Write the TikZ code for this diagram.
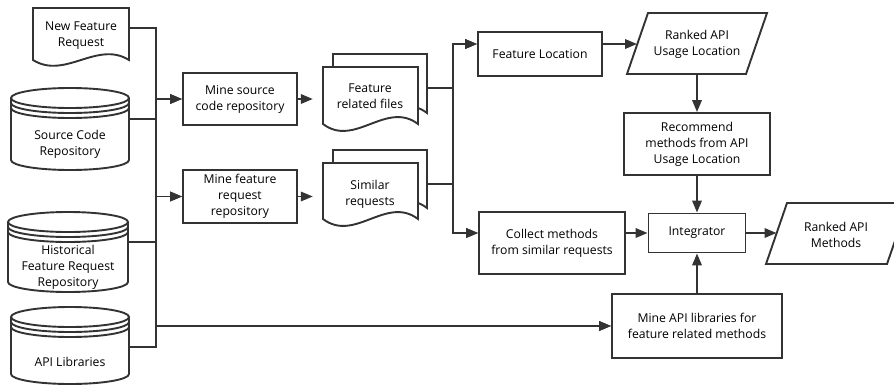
\documentclass[tikz,border=0pt]{standalone}
\usepackage{fontspec}
\setmainfont{Open Sans}
\usetikzlibrary{arrows.meta}
\definecolor{ln}{HTML}{333333}
\newcommand\docpath[5]{\draw[shp] (#1,#4) -- (#1,#3) -- (#2,#3) -- (#2,#4) .. controls ({#1+2*(#2-#1)/3},{#4-#5}) and ({#1+(#2-#1)/3},{#4+#5}) .. cycle;}
\newcommand\dstore[4]{%
  \pgfmathsetmacro\dsM{(#1+#2)/2}%
  \pgfmathsetmacro\dsA{#1+0.4477*(#2-#1)/2}%
  \pgfmathsetmacro\dsZ{#2-0.4477*(#2-#1)/2}%
  \pgfmathsetmacro\dsC{#3+10}%
  \pgfmathsetmacro\dsB{#4-10}%
  \draw[shp] (#1,\dsC) -- (#1,\dsB) .. controls (#1,{\dsB+5.52}) and (\dsA,#4) .. (\dsM,#4) .. controls (\dsZ,#4) and (#2,{\dsB+5.52}) .. (#2,\dsB) -- (#2,\dsC);
  \draw[shp] (\dsM,\dsC) ellipse [x radius={(#2-#1)/2}, y radius=10];
  \foreach \dd in {5,10} {\draw[shp,fill=none] (#1,{\dsC+\dd}) .. controls (#1,{\dsC+\dd+5.52}) and (\dsA,{\dsC+\dd+10}) .. (\dsM,{\dsC+\dd+10}) .. controls (\dsZ,{\dsC+\dd+10}) and (#2,{\dsC+\dd+5.52}) .. (#2,{\dsC+\dd});}
}
\begin{document}
\begin{tikzpicture}[x=1pt,y=-1pt,
  shp/.style={draw=ln,line width=1.9pt,fill=white},
  conn/.style={draw=ln,line width=1.9pt},
  arr/.style={conn,-{Triangle[length=12pt,width=9.5pt]}},
  lbl/.style={align=center,font=\fontsize{12.2}{16}\selectfont,inner sep=0pt,text=black},
  box/.style={lbl,draw=ln,line width=1.9pt,fill=white}]
\useasboundingbox (0,0) rectangle (894,386);
\clip (0,0) rectangle (894,386);
% shapes
\docpath{33}{129}{8}{60}{20}
\dstore{11}{129}{88}{170}
\dstore{8}{128}{212}{292}
\dstore{11}{129}{307}{384}
\docpath{333}{427}{54}{113}{24}
\docpath{323}{418}{67}{124}{24}
\docpath{333}{427}{150}{208}{24}
\docpath{323}{418}{163}{219}{24}
\draw[shp] (627,74) -- (648,13) -- (767,13) -- (746,74) -- cycle;
\draw[shp] (766,264) -- (787,203) -- (908,203) -- (887,264) -- cycle;
% text nodes of drawn shapes
\node[lbl,minimum width=96pt,minimum height=56pt] (nfr) at (81,36) {New Feature\\Request};
\node[lbl,minimum width=118pt] (sc) at (70,144) {Source Code\\Repository};
\node[lbl,minimum width=120pt] (hist) at (68,267) {Historical\\Feature Request\\Repository};
\node[lbl,minimum width=118pt] (api) at (70,362) {API Libraries};
\node[lbl,minimum width=114pt] (frf) at (370,96) {Feature\\related files};
\node[lbl,minimum width=114pt] (sr) at (370,194) {Similar\\requests};
\node[lbl,minimum height=60pt] (rual) at (697,44) {Ranked API\\Usage Location};
\node[lbl] (ram) at (836,234.5) {Ranked API\\Methods};
\coordinate (rual-in) at (637,44);
\coordinate (ram-in) at (776.5,233);
% boxes
\node[box,minimum width=114pt,minimum height=52pt] (ms) at (240,99) {Mine source\\code repository};
\node[box,minimum width=114pt,minimum height=53pt] (mf) at (240,196.5) {Mine feature\\request\\repository};
\node[box,minimum width=124pt,minimum height=44pt] (fl) at (540,54) {Feature Location};
\node[box,minimum width=146pt,minimum height=62pt] (rec) at (697,144) {Recommend\\methods from API\\Usage Location};
\node[box,minimum width=146pt,minimum height=62pt] (cm) at (552,243) {Collect methods\\from similar requests};
\node[box,minimum width=97pt,minimum height=39pt] (integ) at (697,233) {Integrator};
\node[box,minimum width=170pt,minimum height=64pt] (mapi) at (697,326) {Mine API libraries for\\feature related methods};
% left bus
\draw[arr] ([yshift=8pt]nfr.east) -- ++(27,0) |- (ms.west);
\draw[arr] ([yshift=25pt]sc.east) -- ++(27,0) |- (ms.west);
\draw[arr] ([yshift=25pt]sc.east) -- ++(27,0) |- (mf.west);
\draw[arr] ([yshift=25pt]hist.east) -- ++(28,0) |- (mf.west);
\draw[arr] ([yshift=25pt]hist.east) -- ++(28,0) |- (mapi.west);
\draw[arr] ([yshift=15pt]api.east) -- ++(27,0) |- (mapi.west);
\draw[arr] (ms.east) -- (ms.east -| frf.west);
\draw[arr] (mf.east) -- (mf.east -| sr.west);
% right bus
\draw[arr] ([yshift=8pt]frf.east) -- ++(26,0) |- ([yshift=10pt]fl.west);
\draw[arr] ([yshift=8pt]frf.east) -- ++(26,0) |- ([yshift=10pt]cm.west);
\draw[arr] ([yshift=10pt]sr.east) -- ++(26,0) |- ([yshift=10pt]fl.west);
\draw[arr] ([yshift=10pt]sr.east) -- ++(26,0) |- ([yshift=10pt]cm.west);
% right part
\draw[arr] ([yshift=10pt]fl.east) -- (rual-in);
\draw[arr] (rual.south) -- (rec.north);
\draw[arr] (rec.south) -- (integ.north);
\draw[arr] ([yshift=10pt]cm.east) -- (integ.west);
\draw[arr] (mapi.north) -- (integ.south);
\draw[arr] (integ.east) -- (ram-in);
\end{tikzpicture}
\end{document}
